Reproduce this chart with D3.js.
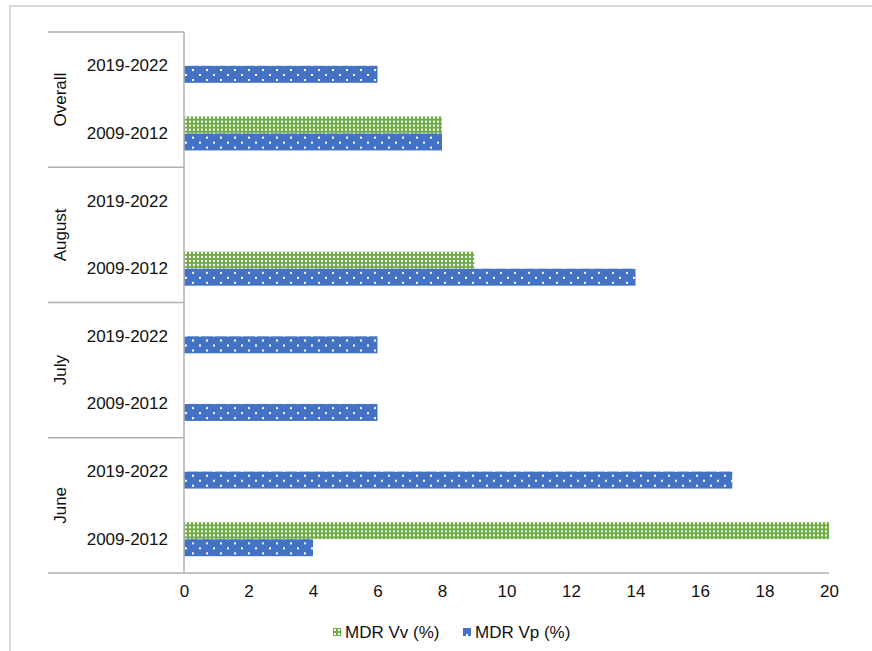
<!DOCTYPE html>
<html>
<head>
<meta charset="utf-8">
<script src="https://cdn.jsdelivr.net/npm/d3@7/dist/d3.min.js"></script>
<style>
  html, body { margin: 0; padding: 0; background: #fff; }
  svg { display: block; font-family: "Liberation Sans", Arial, sans-serif; }
</style>
</head>
<body>
<svg id="chart" width="872" height="651"></svg>
<script>
// Month groups (listed bottom to top) and the two study periods in each
const groups = ["June", "July", "August", "Overall"];
const periods = ["2009-2012", "2019-2022"];
const seriesNames = ["MDR Vv (%)", "MDR Vp (%)"];
// Values per group, in the order of `periods`; null = no value reported
const vvValues = [[20, null], [null, null], [9, null], [8, null]];
const vpValues = [[4, 17], [6, 6], [14, null], [8, 6]];
const xTicks = [0, 2, 4, 6, 8, 10, 12, 14, 16, 18, 20];

const colors = { vv: "#70AD47", vp: "#4472C4" };
const textColor = "#111";

const svg = d3.select("#chart");
const W = 872, H = 651;
const plot = { left: 184, right: 829, top: 32, bottom: 573 };
const labelLeft = 48;

// frame around the chart area
svg.append("rect").attr("x", 10).attr("y", 6).attr("width", W).attr("height", H)
  .attr("fill", "none").attr("stroke", "#d9d9d9").attr("stroke-width", 2);

// fill patterns
const defs = svg.append("defs");
const pg = defs.append("pattern").attr("id", "pat-vv").attr("patternUnits", "userSpaceOnUse")
  .attr("width", 4).attr("height", 4);
pg.append("rect").attr("width", 4).attr("height", 4).attr("fill", colors.vv);
pg.append("rect").attr("x", 1).attr("y", 1).attr("width", 2).attr("height", 2).attr("fill", "#fff");

const pb = defs.append("pattern").attr("id", "pat-vp").attr("patternUnits", "userSpaceOnUse")
  .attr("width", 14).attr("height", 10);
pb.append("rect").attr("width", 14).attr("height", 10).attr("fill", colors.vp);
pb.append("rect").attr("x", 3).attr("y", 2).attr("width", 2).attr("height", 2).attr("fill", "#fff");
pb.append("rect").attr("x", 10).attr("y", 7).attr("width", 2).attr("height", 2).attr("fill", "#fff");

// flat list of rows, top to bottom
const rows = [];
groups.slice().reverse().forEach(g => {
  const gi = groups.indexOf(g);
  periods.slice().reverse().forEach(p => {
    const pi = periods.indexOf(p);
    rows.push({ key: g + "|" + p, group: g, period: p, vv: vvValues[gi][pi], vp: vpValues[gi][pi] });
  });
});

const x = d3.scaleLinear().domain([0, 20]).range([plot.left, plot.right]);
const y = d3.scaleBand().domain(rows.map(r => r.key)).range([plot.top, plot.bottom]);
const barH = 17;
const inner = d3.scaleBand().domain(["vv", "vp"])
  .range([y.bandwidth() / 2 - barH, y.bandwidth() / 2 + barH]);

// bars
const rowG = svg.append("g").selectAll("g").data(rows).join("g")
  .attr("transform", d => `translate(0,${y(d.key)})`);
["vv", "vp"].forEach(s => {
  rowG.filter(d => d[s] != null).append("rect")
    .attr("x", x(0))
    .attr("y", inner(s))
    .attr("width", d => x(d[s]) - x(0))
    .attr("height", inner.bandwidth())
    .attr("fill", `url(#pat-${s})`);
});

// category axis lines
const axisColor = "#b0b0b0";
const lines = svg.append("g").attr("stroke", axisColor).attr("stroke-width", 1.5);
lines.append("line").attr("x1", plot.left).attr("x2", plot.left)
  .attr("y1", plot.top).attr("y2", plot.bottom);
lines.append("line").attr("x1", labelLeft).attr("x2", plot.right)
  .attr("y1", plot.bottom).attr("y2", plot.bottom);
const groupBounds = groups.slice().reverse().map(g => y(g + "|" + periods[1]));
groupBounds.forEach(yy => {
  lines.append("line").attr("x1", labelLeft).attr("x2", plot.left).attr("y1", yy).attr("y2", yy);
});

// period labels
svg.append("g").selectAll("text").data(rows).join("text")
  .attr("x", 168).attr("y", d => y(d.key) + y.bandwidth() / 2)
  .attr("text-anchor", "end").attr("dominant-baseline", "central")
  .attr("font-size", 17).attr("fill", textColor).text(d => d.period);

// group labels (rotated)
svg.append("g").selectAll("text").data(groups).join("text")
  .attr("transform", g => {
    const cy = y(g + "|" + periods[1]) + y.bandwidth();
    return `translate(60,${cy}) rotate(-90)`;
  })
  .attr("text-anchor", "middle").attr("dominant-baseline", "central")
  .attr("font-size", 17).attr("fill", textColor).text(g => g);

// value axis
const xAxis = d3.axisBottom(x).tickValues(xTicks).tickSize(0).tickPadding(12);
const xg = svg.append("g").attr("transform", `translate(0,${plot.bottom})`).call(xAxis);
xg.select(".domain").remove();
xg.selectAll("text").attr("font-size", 17).attr("fill", textColor)
  .attr("font-family", "Liberation Sans, Arial, sans-serif");

// legend
const legend = [
  { name: seriesNames[0], key: "vv", x: 333 },
  { name: seriesNames[1], key: "vp", x: 463 }
];
const lg = svg.append("g").selectAll("g").data(legend).join("g")
  .attr("transform", d => `translate(${d.x},632)`);
lg.append("rect").attr("x", 0).attr("y", -4).attr("width", 8).attr("height", 8)
  .attr("fill", d => `url(#pat-${d.key})`);
lg.append("text").attr("x", 12).attr("y", 0).attr("dominant-baseline", "central")
  .attr("font-size", 17).attr("fill", textColor).text(d => d.name);
</script>
</body>
</html>
